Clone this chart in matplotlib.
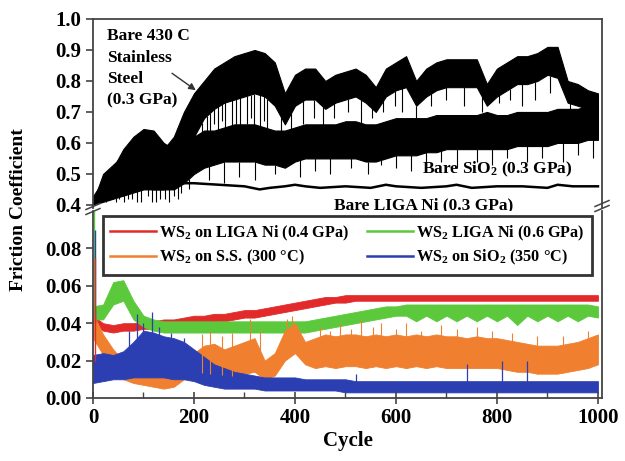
import numpy as np
import matplotlib
matplotlib.use('Agg')
from matplotlib import pyplot as plt
from matplotlib.ticker import MultipleLocator, FormatStrFormatter

plt.rcParams['font.family'] = ['Liberation Serif', 'DejaVu Serif']
plt.rcParams['font.weight'] = 'bold'
plt.rcParams['mathtext.default'] = 'regular'

# ---- top panel (bare substrates), read every 20 cycles ----
cyc = np.arange(0, 1001, 20)

ss_hi = [0.41, 0.50, 0.53, 0.56, 0.60, 0.63, 0.62, 0.58, 0.62, 0.70, 0.76, 0.80, 0.84, 0.86, 0.88, 0.89,
         0.90, 0.89, 0.86, 0.76, 0.82, 0.84, 0.84, 0.80, 0.82, 0.83, 0.84, 0.82, 0.78, 0.84, 0.86, 0.88,
         0.80, 0.84, 0.86, 0.87, 0.87, 0.87, 0.87, 0.79, 0.84, 0.86, 0.88, 0.88, 0.89, 0.91, 0.91, 0.80,
         0.79, 0.77, 0.76]
ss_lo = [0.40, 0.42, 0.43, 0.44, 0.45, 0.46, 0.45, 0.45, 0.48, 0.55, 0.62, 0.68, 0.71, 0.73, 0.74, 0.75,
         0.76, 0.75, 0.72, 0.66, 0.72, 0.74, 0.74, 0.71, 0.73, 0.74, 0.75, 0.73, 0.70, 0.75, 0.77, 0.78,
         0.72, 0.75, 0.77, 0.78, 0.78, 0.78, 0.78, 0.72, 0.75, 0.77, 0.79, 0.79, 0.80, 0.82, 0.81, 0.73,
         0.72, 0.71, 0.71]
sio2_hi = [0.42, 0.48, 0.52, 0.58, 0.62, 0.645, 0.64, 0.60, 0.58, 0.60, 0.62, 0.64, 0.64, 0.65, 0.66, 0.66,
           0.66, 0.65, 0.64, 0.64, 0.65, 0.66, 0.66, 0.66, 0.66, 0.67, 0.67, 0.66, 0.66, 0.67, 0.68, 0.68,
           0.68, 0.68, 0.69, 0.69, 0.69, 0.69, 0.69, 0.70, 0.69, 0.69, 0.70, 0.70, 0.70, 0.70, 0.71, 0.71,
           0.71, 0.72, 0.72]
sio2_lo = [0.40, 0.41, 0.42, 0.43, 0.44, 0.45, 0.45, 0.45, 0.45, 0.47, 0.50, 0.52, 0.53, 0.54, 0.54, 0.54,
           0.54, 0.53, 0.53, 0.52, 0.54, 0.55, 0.55, 0.55, 0.55, 0.55, 0.55, 0.54, 0.54, 0.55, 0.56, 0.56,
           0.56, 0.57, 0.57, 0.58, 0.58, 0.58, 0.58, 0.58, 0.58, 0.58, 0.59, 0.59, 0.59, 0.59, 0.60, 0.60,
           0.60, 0.61, 0.61]

liga_c = [0, 20, 40, 60, 80, 100, 150, 200, 250, 300, 330, 350, 380, 400, 420, 450, 500, 550, 580, 600,
          650, 700, 720, 750, 800, 850, 900, 920, 950, 1000]
liga_v = [0.42, 0.47, 0.48, 0.47, 0.47, 0.47, 0.47, 0.47, 0.465, 0.46, 0.45, 0.455, 0.46, 0.465, 0.46,
          0.455, 0.46, 0.455, 0.465, 0.46, 0.455, 0.46, 0.465, 0.455, 0.46, 0.46, 0.455, 0.465, 0.46, 0.46]

ss_spike_c = [215, 225, 232, 240, 248, 255, 262, 275, 284, 292, 305, 312, 318, 330, 338, 345, 372, 392,
              415, 438, 455, 478, 505, 530, 552, 575, 598, 612, 640, 670, 700, 735, 770, 805, 825, 850,
              875, 905, 945, 975]
ss_spike_v = [0.60, 0.64, 0.58, 0.66, 0.62, 0.67, 0.60, 0.64, 0.66, 0.62, 0.66, 0.68, 0.63, 0.65, 0.67,
              0.62, 0.62, 0.60, 0.66, 0.68, 0.64, 0.68, 0.70, 0.66, 0.68, 0.70, 0.72, 0.70, 0.68, 0.72,
              0.74, 0.72, 0.70, 0.73, 0.74, 0.72, 0.74, 0.76, 0.70, 0.68]
sio2_spike_c = [18, 25, 32, 45, 52, 62, 70, 78, 88, 95, 108, 116, 125, 133, 142, 150, 160, 168, 175, 190,
                230, 260, 290, 320, 360, 410, 440, 470, 510, 545, 570, 600, 630, 660, 690, 720, 760,
                790, 820, 860, 890, 930, 960, 990]
sio2_spike_v = [0.41, 0.41, 0.42, 0.41, 0.42, 0.41, 0.42, 0.42, 0.41, 0.41, 0.43, 0.41, 0.41, 0.42, 0.42,
                0.41, 0.43, 0.42, 0.44, 0.45, 0.48, 0.47, 0.49, 0.48, 0.50, 0.49, 0.51, 0.50, 0.52, 0.50,
                0.53, 0.52, 0.51, 0.53, 0.54, 0.52, 0.54, 0.53, 0.55, 0.54, 0.55, 0.54, 0.56, 0.55]

# ---- bottom panel (WS2 coatings), read every 20 cycles ----
red_hi = [0.044, 0.040, 0.039, 0.040, 0.040, 0.041, 0.041, 0.042, 0.042, 0.043, 0.044, 0.044, 0.045,
          0.045, 0.046, 0.047, 0.047, 0.048, 0.049, 0.050, 0.051, 0.052, 0.053, 0.054, 0.054, 0.055,
          0.055, 0.055, 0.055, 0.055, 0.055, 0.055, 0.055, 0.055, 0.055, 0.055, 0.055, 0.055, 0.055,
          0.055, 0.055, 0.055, 0.055, 0.055, 0.055, 0.055, 0.055, 0.055, 0.055, 0.055, 0.055]
red_lo = [0.040, 0.036, 0.035, 0.036, 0.036, 0.037, 0.037, 0.038, 0.038, 0.039, 0.040, 0.040, 0.041,
          0.041, 0.042, 0.043, 0.043, 0.044, 0.045, 0.046, 0.047, 0.048, 0.049, 0.050, 0.051, 0.051,
          0.052, 0.052, 0.052, 0.052, 0.052, 0.052, 0.052, 0.052, 0.052, 0.052, 0.052, 0.052, 0.052,
          0.052, 0.052, 0.052, 0.052, 0.052, 0.052, 0.052, 0.052, 0.052, 0.052, 0.052, 0.052]
green_hi = [0.049, 0.050, 0.062, 0.063, 0.052, 0.044, 0.042, 0.041, 0.041, 0.041, 0.041, 0.041, 0.041,
            0.041, 0.041, 0.041, 0.041, 0.041, 0.041, 0.041, 0.041, 0.041, 0.042, 0.043, 0.044, 0.045,
            0.046, 0.047, 0.048, 0.049, 0.049, 0.050, 0.050, 0.050, 0.050, 0.050, 0.050, 0.050, 0.050,
            0.050, 0.050, 0.050, 0.050, 0.050, 0.050, 0.050, 0.050, 0.050, 0.050, 0.050, 0.049]
green_lo = [0.042, 0.042, 0.050, 0.052, 0.042, 0.038, 0.036, 0.035, 0.035, 0.035, 0.035, 0.035, 0.035,
            0.035, 0.035, 0.035, 0.035, 0.035, 0.035, 0.035, 0.035, 0.035, 0.036, 0.037, 0.038, 0.039,
            0.040, 0.041, 0.042, 0.043, 0.044, 0.044, 0.041, 0.044, 0.041, 0.044, 0.041, 0.044, 0.041,
            0.044, 0.041, 0.044, 0.039, 0.044, 0.041, 0.044, 0.041, 0.044, 0.041, 0.044, 0.043]
orange_hi = [0.045, 0.034, 0.026, 0.020, 0.016, 0.015, 0.014, 0.013, 0.013, 0.018, 0.024, 0.028, 0.029,
             0.026, 0.028, 0.030, 0.032, 0.020, 0.024, 0.036, 0.040, 0.030, 0.032, 0.034, 0.033, 0.034,
             0.034, 0.033, 0.034, 0.033, 0.034, 0.033, 0.034, 0.033, 0.034, 0.033, 0.033, 0.032, 0.033,
             0.032, 0.032, 0.031, 0.030, 0.029, 0.028, 0.028, 0.028, 0.029, 0.030, 0.032, 0.034]
orange_lo = [0.032, 0.023, 0.015, 0.010, 0.008, 0.007, 0.006, 0.005, 0.006, 0.010, 0.014, 0.013, 0.013,
             0.012, 0.012, 0.013, 0.014, 0.010, 0.012, 0.020, 0.024, 0.018, 0.016, 0.017, 0.016, 0.017,
             0.017, 0.016, 0.017, 0.016, 0.017, 0.016, 0.017, 0.016, 0.017, 0.016, 0.016, 0.016, 0.016,
             0.016, 0.016, 0.015, 0.014, 0.014, 0.013, 0.013, 0.013, 0.014, 0.015, 0.016, 0.018]
blue_hi = [0.023, 0.024, 0.023, 0.025, 0.030, 0.036, 0.035, 0.033, 0.032, 0.030, 0.026, 0.022, 0.018,
           0.016, 0.014, 0.013, 0.012, 0.011, 0.011, 0.011, 0.011, 0.010, 0.010, 0.010, 0.010, 0.010,
           0.009, 0.009, 0.009, 0.009, 0.009, 0.009, 0.009, 0.009, 0.009, 0.009, 0.009, 0.009, 0.009,
           0.009, 0.009, 0.009, 0.009, 0.009, 0.009, 0.009, 0.009, 0.009, 0.009, 0.009, 0.009]
blue_lo = [0.008, 0.009, 0.010, 0.010, 0.011, 0.011, 0.011, 0.011, 0.010, 0.010, 0.009, 0.007, 0.006,
           0.005, 0.005, 0.005, 0.005, 0.004, 0.004, 0.004, 0.004, 0.004, 0.004, 0.004, 0.004, 0.003,
           0.003, 0.003, 0.003, 0.003, 0.003, 0.003, 0.003, 0.003, 0.003, 0.003, 0.003, 0.003, 0.003,
           0.003, 0.003, 0.003, 0.003, 0.003, 0.003, 0.003, 0.003, 0.003, 0.003, 0.003, 0.003]

orange_spike_c = [215, 232, 255, 275, 310, 330, 385, 395, 450, 470, 490, 510, 530, 555, 570, 600, 620,
                  650, 690, 720, 760, 790, 830, 880, 930, 980]
orange_spike_v = [0.034, 0.036, 0.033, 0.035, 0.042, 0.036, 0.042, 0.044, 0.038, 0.036, 0.040, 0.037,
                  0.042, 0.038, 0.040, 0.037, 0.040, 0.036, 0.039, 0.037, 0.038, 0.036, 0.035, 0.033,
                  0.033, 0.036]
blue_spike_c = [72, 88, 100, 116, 130, 155, 180, 520, 740, 810, 860]
blue_spike_v = [0.036, 0.045, 0.040, 0.046, 0.038, 0.035, 0.032, 0.013, 0.018, 0.020, 0.020]
# start-up transient seen on the left spine
start_c = [2, 3, 4]
start_lo = [0.045, 0.040, 0.020]
start_hi = [0.100, 0.090, 0.075]

labels = ['WS$_2$ on LIGA Ni (0.4 GPa)', 'WS$_2$ LIGA Ni (0.6 GPa)',
          'WS$_2$ on S.S. (300 °C)', 'WS$_2$ on SiO$_2$ (350 °C)']
colors = ['#e32a2a', '#5cc93c', '#f08030', '#2b3fb3']

fig = plt.figure(figsize=(6.25, 4.61), dpi=100)
ax1 = fig.add_axes([0.1488, 0.5488, 0.8144, 0.41])
ax2 = fig.add_axes([0.1488, 0.1367, 0.8144, 0.4056])
spine_c = '#444444'

# top
ax1.fill_between(cyc, sio2_lo, sio2_hi, color='k', lw=0.8)
ax1.vlines(sio2_spike_c, sio2_spike_v, np.interp(sio2_spike_c, cyc, sio2_lo), color='k', lw=0.8)
ax1.fill_between(cyc, ss_lo, ss_hi, color='k', lw=0.8)
ax1.vlines(ss_spike_c, ss_spike_v, np.interp(ss_spike_c, cyc, ss_lo), color='k', lw=0.8)
ax1.plot(liga_c, liga_v, color='k', lw=1.8)
ax1.set_xlim(0, 1008)
ax1.set_ylim(0.39, 1.0)
ax1.set_yticks(np.arange(0.4, 1.01, 0.1))
ax1.yaxis.set_major_formatter(FormatStrFormatter('%.1f'))
ax1.set_xticks([])
ax1.spines['bottom'].set_visible(False)
for s in ['top', 'left', 'right']:
    ax1.spines[s].set_color(spine_c)
    ax1.spines[s].set_linewidth(1.3)
ax1.tick_params(axis='y', direction='out', length=5, width=1.2, labelsize=15, color=spine_c)

ax1.text(28, 0.97, 'Bare 430 C\nStainless\nSteel\n(0.3 GPa)', fontsize=12.5, va='top', ha='left',
         linespacing=1.45)
ax1.annotate('', xy=(208, 0.765), xytext=(152, 0.83),
             arrowprops=dict(arrowstyle='-|>', color='#333333', lw=1.0, mutation_scale=10))
ax1.text(800, 0.516, 'Bare SiO$_2$ (0.3 GPa)', fontsize=12.5, ha='center', va='center')
ax1.text(655, 0.40, 'Bare LIGA Ni (0.3 GPa)', fontsize=12.5, ha='center', va='center', clip_on=False)

# bottom
los = [red_lo, green_lo, orange_lo, blue_lo]
his = [red_hi, green_hi, orange_hi, blue_hi]
handles = []
for lo, hi, col, lab in zip(los, his, colors, labels):
    ax2.fill_between(cyc, lo, hi, color=col, lw=0.6)
    h, = ax2.plot([], [], color=col, lw=1.8, label=lab)
    handles.append(h)
    if col == colors[2]:
        ax2.vlines(orange_spike_c, np.interp(orange_spike_c, cyc, lo), orange_spike_v, color=col, lw=0.8)
ax2.vlines(blue_spike_c, np.interp(blue_spike_c, cyc, blue_lo), blue_spike_v, color=colors[3], lw=0.9)
ax2.vlines(start_c, start_lo, start_hi, color=[colors[1], colors[3], colors[0]], lw=1.0)
ax2.set_xlim(0, 1008)
ax2.set_ylim(0, 0.1)
ax2.set_yticks(np.arange(0, 0.081, 0.02))
ax2.yaxis.set_major_formatter(FormatStrFormatter('%.2f'))
ax2.set_xticks(np.arange(0, 1001, 200))
ax2.xaxis.set_minor_locator(MultipleLocator(100))
ax2.spines['top'].set_visible(False)
for s in ['bottom', 'left', 'right']:
    ax2.spines[s].set_color(spine_c)
    ax2.spines[s].set_linewidth(1.3)
ax2.tick_params(axis='y', direction='out', length=5, width=1.2, labelsize=15, color=spine_c)
ax2.tick_params(axis='x', which='major', direction='inout', length=8, width=1.2, labelsize=15,
                color=spine_c)
ax2.tick_params(axis='x', which='minor', direction='in', length=4, width=1.0, color=spine_c)
ax2.set_xlabel('Cycle', fontsize=15, fontweight='bold', labelpad=2)

# legend fills column by column: red, orange | green, blue
order = [0, 2, 1, 3]
leg = ax2.legend([handles[i] for i in order], [labels[i] for i in order],
                 loc='upper left', bbox_to_anchor=(0.02, 0.642, 0.96, 0.331), mode='expand', ncol=2,
                 fontsize=11.7, frameon=True, fancybox=False, handlelength=2.8, handletextpad=0.2,
                 borderaxespad=0, columnspacing=0.6, labelspacing=0.35, borderpad=0.45)
leg.get_frame().set_edgecolor('k')
leg.get_frame().set_linewidth(2)

fig.text(0.03, 0.545, 'Friction Coefficient', rotation=90, fontsize=14, fontweight='bold',
         ha='center', va='center')

# axis break marks
for xb, yb in [(93, 209), (602, 206)]:
    for dy in (-2.5, 2.5):
        x0, x1 = (xb - 7) / 625, (xb + 7) / 625
        y0, y1 = 1 - (yb + dy + 3) / 461, 1 - (yb + dy - 3) / 461
        fig.add_artist(plt.Line2D([x0, x1], [y0, y1], color=spine_c, lw=1.1, transform=fig.transFigure))

fig.savefig('out.png', dpi=100)
